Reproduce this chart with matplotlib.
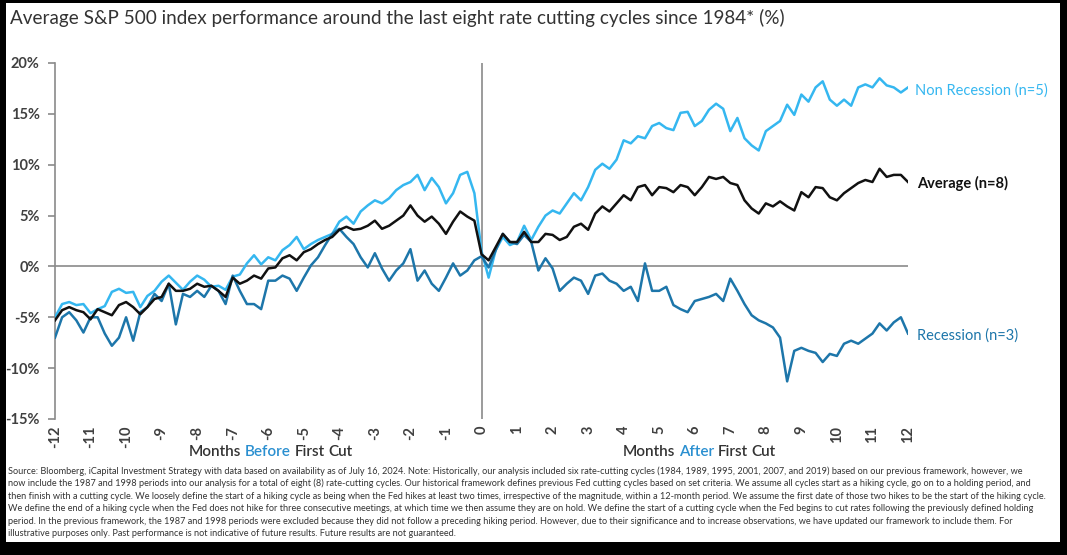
import matplotlib.pyplot as plt
import numpy as np
from matplotlib.patches import Rectangle

# months relative to first cut, one reading every 0.2 month
months = np.linspace(-12, 12, 121)

# Non Recession (n=5), % performance
non_recession = [-5.0, -3.7, -3.5, -3.8, -3.7, -4.6, -4.2, -3.9, -2.5, -2.2, -2.6, -2.5, -4.0, -2.9, -2.4, -1.5,
                 -0.9, -1.6, -2.3, -1.5, -0.9, -1.3, -2.0, -1.9, -2.3, -1.0, -0.8, 0.3, 1.1, 0.2, 0.9,
                 0.6, 1.6, 2.1, 2.9, 1.7, 2.2, 2.6, 2.9, 3.2, 4.4, 4.9, 4.2, 5.4, 6.0, 6.5, 6.2, 6.7, 7.5, 8.0,
                 8.3, 9.0, 7.5, 8.7, 7.8, 6.2, 7.2, 9.0, 9.3, 7.2, 1.5,
                 -1.1, 1.6, 2.9, 2.1, 2.4, 4.0, 2.6, 3.9, 5.0, 5.5, 5.2, 6.2, 7.2, 6.5, 7.8, 9.5, 10.1, 9.6,
                 10.5, 12.4, 12.1, 12.8, 12.6, 13.8, 14.1, 13.6, 13.4, 15.1, 15.2, 13.8, 14.3,
                 15.4, 16.0, 15.5, 13.3, 14.6, 12.6, 11.9, 11.4, 13.3, 13.8, 14.3, 15.9, 14.9, 16.9, 16.2,
                 17.6, 18.2, 16.4, 15.8, 16.4, 15.8, 17.6, 17.9, 17.6, 18.5, 17.8, 17.6, 17.1, 17.6]

# Average (n=8)
average = [-5.3, -4.3, -4.0, -4.3, -4.5, -5.2, -4.2, -4.5, -4.8, -3.8, -3.5, -4.0, -4.7, -4.0, -3.2, -3.0,
           -1.7, -2.4, -2.4, -2.2, -1.7, -2.0, -1.9, -2.4, -3.0, -1.1, -1.7, -1.4, -0.9, -1.2, -0.2,
           -0.1, 0.8, 1.1, 0.6, 1.4, 1.7, 2.2, 2.6, 2.9, 3.6, 3.9, 3.6, 3.7, 4.0, 4.5, 3.7, 4.0, 4.5, 5.0,
           6.0, 5.0, 4.4, 4.9, 4.2, 3.2, 4.4, 5.4, 4.9, 4.5, 1.2,
           0.6, 1.9, 3.2, 2.4, 2.4, 3.4, 2.4, 2.4, 3.2, 3.1, 2.6, 2.9, 3.9, 4.2, 3.6, 5.2, 5.9, 5.4,
           6.2, 7.0, 6.5, 7.8, 8.0, 7.0, 7.8, 7.7, 7.3, 8.0, 7.8, 7.0, 7.8,
           8.8, 8.6, 8.8, 8.2, 8.0, 6.5, 5.7, 5.2, 6.2, 5.9, 6.4, 5.9, 5.5, 7.3, 6.8,
           7.8, 7.7, 6.8, 6.5, 7.2, 7.7, 8.2, 8.5, 8.3, 9.6, 8.8, 9.0, 9.0, 8.3]

# Recession (n=3)
recession = [-7.0, -5.0, -4.5, -5.3, -6.5, -5.0, -5.0, -6.6, -7.8, -7.0, -5.0, -7.3, -4.5, -4.0, -2.7, -3.4,
             -1.7, -5.7, -2.7, -3.0, -2.4, -3.0, -1.9, -2.4, -3.7, -0.9, -2.4, -3.7, -3.7, -4.2, -1.4,
             -1.4, -0.9, -1.2, -2.4, -1.1, 0.1, 0.9, 2.1, 3.2, 3.7, 2.9, 2.2, 0.9, -0.1, 1.3, -0.2, -1.4, -0.4,
             0.3, 1.7, -1.4, -0.4, -1.7, -2.4, -1.1, 0.3, -0.9, -0.4, 0.6, 1.0,
             -0.1, 1.6, 3.2, 2.4, 2.2, 3.1, 2.4, -0.4, 0.8, -0.2, -2.4, -1.7, -1.1, -1.4, -2.7, -0.9, -0.7,
             -1.4, -1.7, -2.4, -2.0, -3.4, 0.3, -2.4, -2.4, -2.0, -3.8, -4.2, -4.5, -3.4, -3.2,
             -3.0, -2.7, -3.4, -1.2, -2.4, -3.7, -4.8, -5.3, -5.6, -6.0, -7.0, -11.3, -8.3, -8.0, -8.3,
             -8.5, -9.4, -8.6, -8.8, -7.6, -7.3, -7.6, -7.1, -6.6, -5.6, -6.3, -5.5, -5.0, -6.6]

x_ticks = list(range(-12, 13))
y_ticks = [-15, -10, -5, 0, 5, 10, 15, 20]

source_lines = [
    "Source: Bloomberg, iCapital Investment Strategy with data based on availability as of July 16, 2024. Note: Historically, our analysis included six rate-cutting cycles (1984, 1989, 1995, 2001, 2007, and 2019) based on our previous framework, however, we",
    "now include the 1987 and 1998 periods into our analysis for a total of eight (8) rate-cutting cycles. Our historical framework defines previous Fed cutting cycles based on set criteria. We assume all cycles start as a hiking cycle, go on to a holding period, and",
    "then finish with a cutting cycle. We loosely define the start of a hiking cycle as being when the Fed hikes at least two times, irrespective of the magnitude, within a 12-month period. We assume the first date of those two hikes to be the start of the hiking cycle.",
    "We define the end of a hiking cycle when the Fed does not hike for three consecutive meetings, at which time we then assume they are on hold. We define the start of a cutting cycle when the Fed begins to cut rates following the previously defined holding",
    "period. In the previous framework, the 1987 and 1998 periods were excluded because they did not follow a preceding hiking period. However, due to their significance and to increase observations, we have updated our framework to include them. For",
    "illustrative purposes only. Past performance is not indicative of future results. Future results are not guaranteed.",
]

light_blue = '#35b7f0'
dark_blue = '#1d76aa'
word_blue = '#2a8fd0'
grey = '#8a8a8a'

plt.rcParams['font.family'] = ['Lato', 'DejaVu Sans']

W, H = 1067, 555
fig = plt.figure(figsize=(W / 100, H / 100), dpi=100, facecolor='black')
# white screenshot area inside the black frame
fig.patches.append(Rectangle((6 / W, 13 / H), 1054 / W, 539 / H, transform=fig.transFigure,
                             facecolor='white', edgecolor='none', zorder=-5))

ax = fig.add_axes([55 / W, (H - 419) / H, (908 - 55) / W, (419 - 63) / H])
ax.set_facecolor('none')

ax.plot(months, non_recession, color=light_blue, lw=1.8, zorder=3)
ax.plot(months, recession, color=dark_blue, lw=1.8, zorder=3)
ax.plot(months, average, color='#111111', lw=1.8, zorder=4)

ax.axhline(0, color=grey, lw=1.2, zorder=1)
ax.axvline(0, color=grey, lw=1.2, zorder=1)

ax.set_xlim(-12, 12)
ax.set_ylim(-15, 20)
for s in ['top', 'right', 'bottom']:
    ax.spines[s].set_visible(False)
ax.spines['left'].set_color(grey)
ax.spines['left'].set_linewidth(1.2)

ax.set_yticks(y_ticks)
ax.set_yticklabels([f'{v}%' for v in y_ticks], fontsize=10.5, fontweight='bold', color='#404040')
ax.tick_params(axis='y', length=5, color=grey, width=1.2, pad=6)
ax.set_xticks(x_ticks)
ax.set_xticklabels([str(v) for v in x_ticks], rotation=90, fontsize=10.5, fontweight='bold', color='#404040')
ax.tick_params(axis='x', length=0, pad=5)

# line labels
ax.text(12.2, 17.3, 'Non Recession (n=5)', color=light_blue, fontsize=10.5, va='center', clip_on=False)
ax.text(12.25, 8.2, 'Average (n=8)', color='#111111', fontsize=10.5, fontweight='bold', va='center', clip_on=False)
ax.text(12.25, -6.8, 'Recession (n=3)', color=dark_blue, fontsize=10.5, va='center', clip_on=False)


# axis captions with one coloured word: each piece is right-aligned where the
# running string up to that piece ends, so spacing follows the font itself
def caption(x_mid, words):
    renderer = fig.canvas.get_renderer()
    y = (H - 456) / H
    kw = dict(fontsize=11, fontweight='semibold', va='baseline')
    probe = fig.text(0, y, ' '.join(w for w, c in words), **kw)
    x0 = x_mid - probe.get_window_extent(renderer=renderer).width / 2
    probe.remove()
    for i, (w, c) in enumerate(words):
        if i == 0:
            fig.text(x0 / W, y, w, color=c, ha='left', **kw)
        else:
            probe = fig.text(0, y, ' '.join(ww for ww, cc in words[:i + 1]), **kw)
            right = x0 + probe.get_window_extent(renderer=renderer).width
            probe.remove()
            fig.text(right / W, y, w, color=c, ha='right', **kw)


caption(271, [('Months', '#333333'), ('Before', word_blue), ('First', '#333333'), ('Cut', '#333333')])
caption(699, [('Months', '#333333'), ('After', word_blue), ('First', '#333333'), ('Cut', '#333333')])

fig.text(10 / W, (H - 18) / H, 'Average S&P 500 index performance around the last eight rate cutting cycles since 1984* (%)',
         fontsize=13.6, color='#333333', va='center')

for i, line in enumerate(source_lines):
    fig.text(8 / W, (H - 471 - i * 12.6) / H, line, fontsize=6.6, color='#333333', va='center')

fig.savefig('out.png', dpi=100, facecolor=fig.get_facecolor())
